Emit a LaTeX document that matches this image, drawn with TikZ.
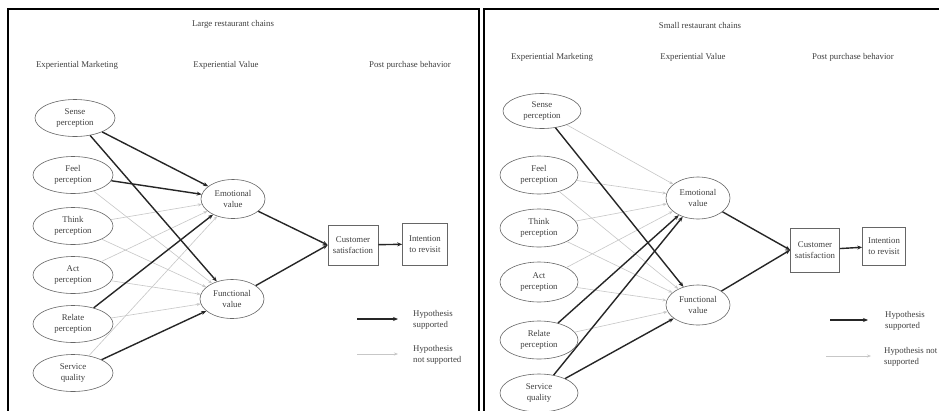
\documentclass[tikz,border=0pt]{standalone}
\usepackage{fontspec}
\setmainfont{Liberation Serif}
\usetikzlibrary{shapes.geometric,arrows.meta}
\begin{document}
\begin{tikzpicture}[x=1pt,y=-1pt,
  txt/.style={font=\fontsize{8.8}{11.5}\selectfont, text=black!75, align=center, inner sep=0pt},
  ell/.style={ellipse, draw=black!60, line width=0.6pt, minimum width=80pt, minimum height=37pt, inner sep=0pt, txt},
  vell/.style={ellipse, draw=black!60, line width=0.6pt, minimum width=64pt, minimum height=39pt, inner sep=0pt, txt},
  bx/.style={rectangle, draw=black!60, line width=0.6pt, inner sep=0pt, txt},
  sup/.style={line width=1.4pt, draw=black!85, -{Stealth[length=5pt,width=4pt]}},
  nsup/.style={line width=0.6pt, draw=black!22, -{Stealth[length=4pt,width=3pt]}},
  panel/.style={line width=1.8pt, draw=black}
]
\useasboundingbox (0,0) rectangle (939,410);
\fill[white] (0,0) rectangle (939,410);

% ---------- Left panel ----------
\draw[panel] (8,412) -- (8,9) -- (479,9) -- (479,412);
\node[txt] (Ltitle) at (233,24) {Large restaurant chains};
\node[txt] (Lh1) at (77,65) {Experiential Marketing};
\node[txt] (Lh2) at (226,65) {Experiential Value};
\node[txt] (Lh3) at (410,65) {Post purchase behavior};

\node[ell] (LSe) at (75,118) {Sense\\perception};
\node[ell] (LFe) at (73,175) {Feel\\perception};
\node[ell] (LTh) at (73,226) {Think\\perception};
\node[ell] (LAc) at (73,275) {Act\\perception};
\node[ell] (LRe) at (73,324) {Relate\\perception};
\node[ell] (LSq) at (73,373) {Service\\quality};
\node[vell] (LEm) at (233,199) {Emotional\\value};
\node[vell] (LFu) at (232,299) {Functional\\value};
\node[bx, minimum width=50pt, minimum height=40pt] (LCs) at (353,245) {Customer\\satisfaction};
\node[bx, minimum width=45pt, minimum height=42pt] (LIr) at (425,244) {Intention\\to revisit};

\draw[nsup] (LFe) -- (LFu);
\draw[nsup] (LTh) -- (LEm);
\draw[nsup] (LTh) -- (LFu);
\draw[nsup] (LAc) -- (LEm);
\draw[nsup] (LAc) -- (LFu);
\draw[nsup] (LRe) -- (LFu);
\draw[nsup] (LSq) -- (LEm);
\draw[sup] (LSe) -- (LEm);
\draw[sup] (LSe) -- (LFu);
\draw[sup] (LFe) -- (LEm);
\draw[sup] (LRe) -- (LEm);
\draw[sup] (LSq) -- (LFu);
\draw[sup] (LEm) -- (LCs.west);
\draw[sup] (LFu) -- (LCs.west);
\draw[sup] (LCs) -- (LIr);

\coordinate (La1) at (357,319); \coordinate (Lb1) at (398,319);
\coordinate (La2) at (357,354); \coordinate (Lb2) at (398,354);
\draw[sup] (La1) -- (Lb1);
\draw[nsup] (La2) -- (Lb2);
\node[txt, anchor=west, align=left] (Ll1) at (413,320) {Hypothesis\\supported};
\node[txt, anchor=west, align=left] (Ll2) at (413,355) {Hypothesis\\not supported};

% ---------- Right panel ----------
\draw[panel] (484,412) -- (484,9) -- (941,9);
\node[txt] (Rtitle) at (700,25) {Small restaurant chains};
\node[txt] (Rh1) at (552,57) {Experiential Marketing};
\node[txt] (Rh2) at (693,57) {Experiential Value};
\node[txt] (Rh3) at (853,57) {Post purchase behavior};

\node[ell, minimum width=78pt, minimum height=35pt] (RSe) at (542,111) {Sense\\perception};
\node[ell, minimum width=78pt, minimum height=38pt] (RFe) at (539,175) {Feel\\perception};
\node[ell, minimum width=78pt, minimum height=38pt] (RTh) at (539,228) {Think\\perception};
\node[ell, minimum width=78pt, minimum height=40pt] (RAc) at (539,282) {Act\\perception};
\node[ell, minimum width=78pt, minimum height=38pt] (RRe) at (539,340) {Relate\\perception};
\node[ell, minimum width=78pt, minimum height=38pt] (RSq) at (539,393) {Service\\quality};
\node[vell, minimum height=42pt] (REm) at (698,198) {Emotional\\value};
\node[vell, minimum height=40pt] (RFu) at (698,305) {Functional\\value};
\node[bx, minimum width=49pt, minimum height=44pt] (RCs) at (815,250) {Customer\\satisfaction};
\node[bx, minimum width=43pt, minimum height=38pt] (RIr) at (884,246) {Intention\\to revisit};

\draw[nsup] (RSe) -- (REm);
\draw[nsup] (RFe) -- (REm);
\draw[nsup] (RFe) -- (RFu);
\draw[nsup] (RTh) -- (REm);
\draw[nsup] (RTh) -- (RFu);
\draw[nsup] (RAc) -- (REm);
\draw[nsup] (RAc) -- (RFu);
\draw[nsup] (RRe) -- (RFu);
\draw[sup] (RSe) -- (RFu);
\draw[sup] (RRe) -- (REm);
\draw[sup] (RSq) -- (REm);
\draw[sup] (RSq) -- (RFu);
\draw[sup] (REm) -- (RCs.west);
\draw[sup] (RFu) -- (RCs.west);
\draw[sup] (RCs) -- (RIr);

\coordinate (Ra1) at (830,320); \coordinate (Rb1) at (868,320);
\coordinate (Ra2) at (826,356); \coordinate (Rb2) at (871,356);
\draw[sup] (Ra1) -- (Rb1);
\draw[nsup] (Ra2) -- (Rb2);
\node[txt, anchor=west, align=left] (Rl1) at (885,321) {Hypothesis\\supported};
\node[txt, anchor=west, align=left] (Rl2) at (884,357) {Hypothesis not\\supported};
\end{tikzpicture}
\end{document}
